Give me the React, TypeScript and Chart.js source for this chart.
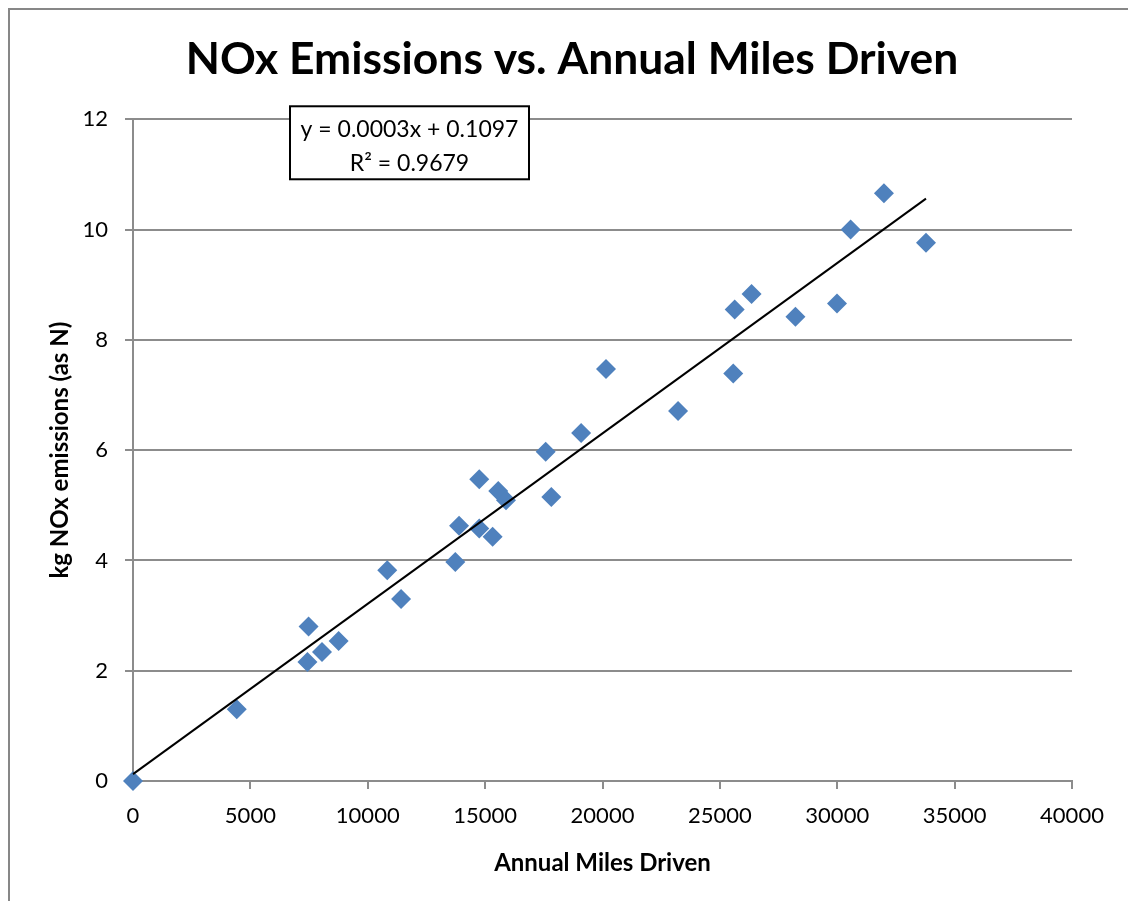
import React, { useEffect, useRef } from "react";
import { Chart, registerables } from "chart.js";

Chart.register(...registerables);

// ---- data ----
const milesDriven = [
  0, 4420, 7480, 7430, 8050, 8760, 10830, 11420, 13730, 13890, 14750, 14750,
  15320, 15560, 15890, 17580, 17820, 19090, 20150, 23220, 25570, 25630, 26350,
  28220, 29990, 30570, 31990, 33780,
];
const noxKg = [
  0, 1.3, 2.8, 2.16, 2.34, 2.54, 3.82, 3.3, 3.97, 4.63, 5.47, 4.58, 4.43, 5.26,
  5.09, 5.97, 5.15, 6.31, 7.47, 6.71, 7.39, 8.55, 8.83, 8.42, 8.66, 10.0, 10.66,
  9.76,
];
const xTicks = [0, 5000, 10000, 15000, 20000, 25000, 30000, 35000, 40000];
const yTicks = [0, 2, 4, 6, 8, 10, 12];
const chartTitle = "NOx Emissions vs. Annual Miles Driven";
const xAxisTitle = "Annual Miles Driven";
const yAxisTitle = "kg NOx emissions (as N)";
const equationLines = ["y = 0.0003x + 0.1097", "R² = 0.9679"];

// least-squares trend line from the data
function trendPoints() {
  const n = milesDriven.length;
  const mx = milesDriven.reduce((a, b) => a + b, 0) / n;
  const my = noxKg.reduce((a, b) => a + b, 0) / n;
  let sxy = 0;
  let sxx = 0;
  for (let i = 0; i < n; i++) {
    sxy += (milesDriven[i] - mx) * (noxKg[i] - my);
    sxx += (milesDriven[i] - mx) ** 2;
  }
  const slope = sxy / sxx;
  const intercept = my - slope * mx;
  const x0 = Math.min(...milesDriven);
  const x1 = Math.max(...milesDriven);
  return [
    { x: x0, y: intercept + slope * x0 },
    { x: x1, y: intercept + slope * x1 },
  ];
}

const FONT = "Lato";
const GRID = "#8c8c8c";

const equationBox = {
  id: "equationBox",
  afterDraw(chart: any) {
    const { ctx, chartArea } = chart;
    const left = chartArea.left + 157;
    const top = chartArea.top - 13;
    const w = 239;
    const h = 73;
    ctx.save();
    ctx.fillStyle = "#ffffff";
    ctx.fillRect(left, top, w, h);
    ctx.strokeStyle = "#000000";
    ctx.lineWidth = 2;
    ctx.strokeRect(left, top, w, h);
    ctx.fillStyle = "#000000";
    ctx.font = `23px ${FONT}`;
    ctx.textAlign = "center";
    ctx.textBaseline = "middle";
    ctx.fillText(equationLines[0], left + w / 2, top + 23.5);
    ctx.fillText(equationLines[1], left + w / 2, top + 57);
    ctx.restore();
  },
};

export default function App() {
  const canvasRef = useRef<HTMLCanvasElement | null>(null);

  useEffect(() => {
    const canvas = canvasRef.current;
    if (!canvas) return;
    const points = milesDriven.map((x, i) => ({ x, y: noxKg[i] }));
    const chart = new Chart(canvas, {
      type: "scatter",
      data: {
        datasets: [
          {
            label: "Linear (trend)",
            data: trendPoints(),
            showLine: true,
            borderColor: "#000000",
            borderWidth: 2,
            pointRadius: 0,
            fill: false,
            clip: false,
          } as any,
          {
            label: "NOx",
            data: points,
            pointStyle: "rectRot",
            pointRadius: 10,
            backgroundColor: "#4F81BD",
            borderColor: "#4F81BD",
            borderWidth: 0,
            clip: false,
          } as any,
        ],
      },
      options: {
        responsive: false,
        animation: false,
        events: [],
        devicePixelRatio: 1,
        layout: { padding: { left: 6, right: 0, top: 0, bottom: 0 } },
        plugins: {
          legend: { display: false },
          tooltip: { enabled: false },
          title: {
            display: true,
            text: chartTitle,
            color: "#000000",
            font: { family: FONT, size: 44.4, weight: "bold", lineHeight: 1.2 },
            padding: { top: 23.4, bottom: 32.6 },
          },
        },
        scales: {
          x: {
            type: "linear",
            min: xTicks[0],
            max: xTicks[xTicks.length - 1],
            afterBuildTicks: (s: any) => {
              s.ticks = xTicks.map((v) => ({ value: v }));
            },
            afterFit: (s: any) => {
              s.height = 120;
            },
            grid: {
              drawOnChartArea: false,
              drawTicks: true,
              tickLength: 8,
              color: GRID,
              lineWidth: 2,
            },
            border: { display: true, color: GRID, width: 2 },
            ticks: {
              color: "#000000",
              font: { family: FONT, size: 22 },
              padding: 14,
              maxRotation: 0,
              autoSkip: false,
              callback: (v: any) => String(v),
            },
            title: {
              display: true,
              text: xAxisTitle,
              color: "#000000",
              font: { family: FONT, size: 24, weight: "bold", lineHeight: 1.2 },
              padding: { top: 0, bottom: 23.6 },
            },
          },
          y: {
            type: "linear",
            min: yTicks[0],
            max: yTicks[yTicks.length - 1],
            afterBuildTicks: (s: any) => {
              s.ticks = yTicks.map((v) => ({ value: v }));
            },
            afterFit: (s: any) => {
              s.width = 117;
            },
            grid: {
              drawOnChartArea: true,
              drawTicks: true,
              tickLength: 8,
              color: GRID,
              lineWidth: 2,
            },
            border: { display: true, color: GRID, width: 2 },
            ticks: {
              color: "#000000",
              font: { family: FONT, size: 22 },
              padding: 17,
              autoSkip: false,
              callback: (v: any) => String(v),
            },
            title: {
              display: true,
              text: yAxisTitle,
              color: "#000000",
              font: { family: FONT, size: 24, weight: "bold", lineHeight: 1.2 },
              padding: { top: 29.6, bottom: 0 },
            },
          },
          yRightSpace: {
            type: "linear",
            position: "right",
            display: true,
            afterFit: (s: any) => {
              s.width = 56;
            },
            grid: { display: false, drawTicks: false },
            border: { display: false },
            ticks: { display: false },
          },
        },
      } as any,
      plugins: [equationBox],
    });
    return () => chart.destroy();
  }, []);

  return (
    <div
      style={{
        position: "fixed",
        left: 8,
        top: 8,
        width: 1120,
        height: 893,
        boxSizing: "border-box",
        borderTop: "2px solid #878787",
        borderLeft: "2px solid #878787",
        background: "#ffffff",
      }}
    >
      <canvas
        ref={canvasRef}
        width={1118}
        height={891}
        style={{ display: "block", width: 1118, height: 891 }}
      />
    </div>
  );
}
